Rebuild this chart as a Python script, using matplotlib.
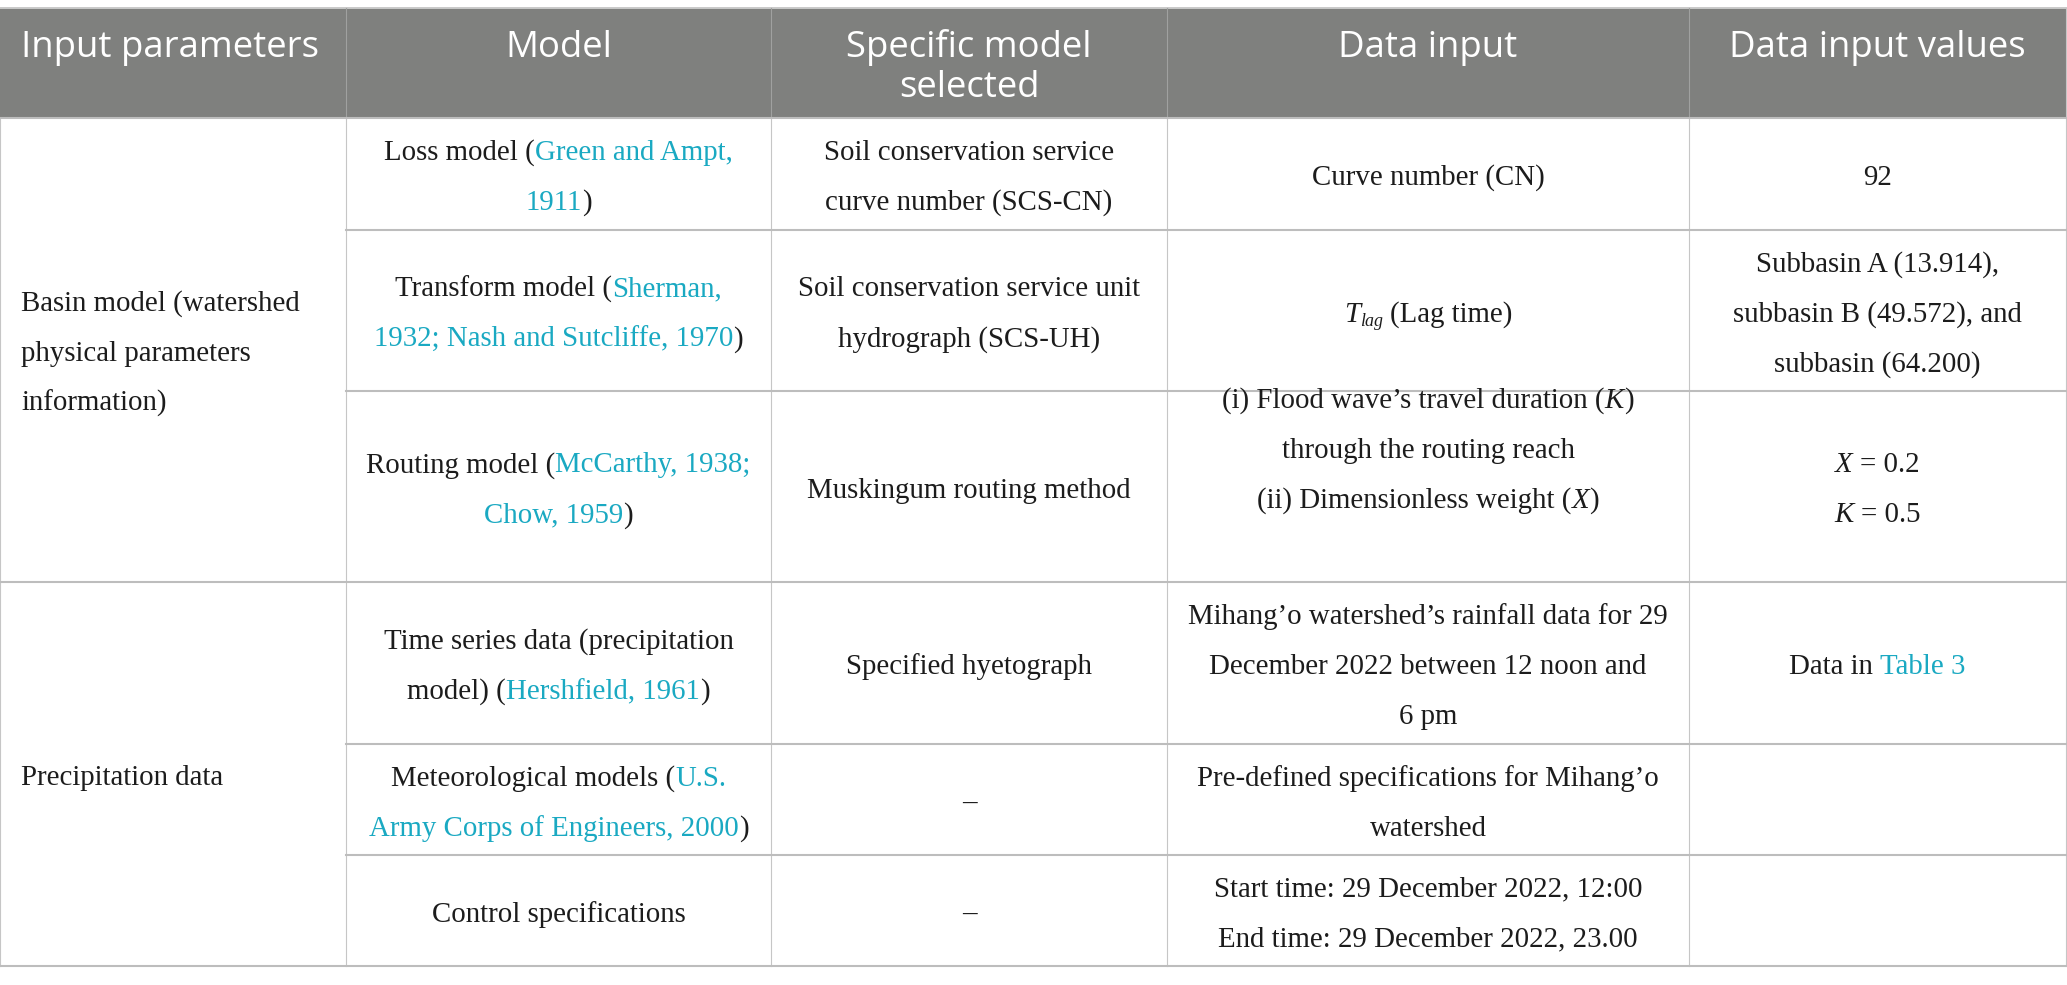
import re
import matplotlib.pyplot as plt

# table content ({..} = citation link, *..* = italic, ~..~ = italic subscript)
headers = ["Input parameters", "Model", "Specific model\nselected", "Data input", "Data input values"]
groups = ["Basin model (watershed\nphysical parameters\ninformation)", "Precipitation data"]
group_sizes = [3, 3]
models = [
    "Loss model ({Green and Ampt,}\n{1911})",
    "Transform model ({Sherman,}\n{1932; Nash and Sutcliffe, 1970})",
    "Routing model ({McCarthy, 1938;}\n{Chow, 1959})",
    "Time series data (precipitation\nmodel) ({Hershfield, 1961})",
    "Meteorological models ({U.S.}\n{Army Corps of Engineers, 2000})",
    "Control specifications",
]
specific = [
    "Soil conservation service\ncurve number (SCS-CN)",
    "Soil conservation service unit\nhydrograph (SCS-UH)",
    "Muskingum routing method",
    "Specified hyetograph",
    "\u2013",
    "\u2013",
]
data_input = [
    "Curve number (CN)",
    "*T*~lag~ (Lag time)",
    "(i) Flood wave\u2019s travel duration (*K*)\nthrough the routing reach\n(ii) Dimensionless weight (*X*)",
    "Mihang\u2019o watershed\u2019s rainfall data for 29\nDecember 2022 between 12 noon and\n6 pm",
    "Pre-defined specifications for Mihang\u2019o\nwatershed",
    "Start time: 29 December 2022, 12:00\nEnd time: 29 December 2022, 23.00",
]
input_values = [
    "92",
    "Subbasin A (13.914),\nsubbasin B (49.572), and\nsubbasin (64.200)",
    "*X* = 0.2\n*K* = 0.5",
    "Data in {Table 3}",
    "",
    "",
]

W, H = 2067, 985
col_x = [0, 346, 771, 1167, 1689, 2066]
row_y = [118, 230, 391, 582, 744, 855, 966]
top_y = 8
line_gap = 50
shift = {(3, 2): -40}

HEAD_GRAY = "#7f807e"
LINK = "#1aa9c2"
TEXT = "#1c1c1c"
body_font = "Liberation Serif"
body_size = 20.8

fig = plt.figure(figsize=(W / 100, H / 100), dpi=100)
ax = fig.add_axes([0, 0, 1, 1])
ax.set_xlim(0, W)
ax.set_ylim(H, 0)
ax.axis("off")
renderer = fig.canvas.get_renderer()


def text_width(s, **kw):
    if not s:
        return 0.0
    t = ax.text(0, 0, s, **kw)
    w = t.get_window_extent(renderer).width
    t.remove()
    return w


def run_width(s, **kw):
    core = s.strip(" ")
    n_sp = len(s) - len(core)
    sp = text_width("x x", **kw) - text_width("xx", **kw) if n_sp else 0
    return text_width(core, **kw) + n_sp * sp


def parse(line):
    runs = []
    for tok in re.split(r"(\{[^}]*\}|\*[^*]*\*|~[^~]*~)", line):
        if not tok:
            continue
        kw = dict(family=body_font, fontsize=body_size, color=TEXT)
        dy = 0
        if tok[0] == "{":
            tok = tok[1:-1]
            kw["color"] = LINK
        elif tok[0] == "*":
            tok = tok[1:-1]
            kw["style"] = "italic"
        elif tok[0] == "~":
            tok = tok[1:-1]
            kw["style"] = "italic"
            kw["fontsize"] = body_size * 0.62
            dy = 5
        runs.append((tok, kw, dy))
    return runs


def draw_line(line, x, base, align="center"):
    runs = parse(line)
    widths = [run_width(t, **kw) for t, kw, dy in runs]
    total = sum(widths)
    cx = x - total / 2 if align == "center" else x
    for (t, kw, dy), w in zip(runs, widths):
        lead = len(t) - len(t.lstrip(" "))
        sp = (text_width("x x", **kw) - text_width("xx", **kw)) if lead else 0
        ax.text(cx + lead * sp, base + dy, t.strip(" "), ha="left", va="baseline", **kw)
        cx += w


def draw_cell(content, x, y_center, align="center"):
    lines = content.split("\n") if content else []
    n = len(lines)
    for i, ln in enumerate(lines):
        base = y_center + 3 + (i - (n - 1) / 2) * line_gap + 8
        draw_line(ln, x, base, align)


# header band
ax.fill_between([0, col_x[-1]], top_y, row_y[0], color=HEAD_GRAY, lw=0)
ax.plot([0, col_x[-1]], [top_y, top_y], color="#c9c9c9", lw=1.4)
for cx in col_x[1:-1]:
    ax.plot([cx, cx], [top_y, row_y[0]], color="#a0a1a0", lw=0.8)
for j, h in enumerate(headers):
    x = 21 if j == 0 else (col_x[j] + col_x[j + 1]) / 2
    for i, ln in enumerate(h.split("\n")):
        ax.text(x, 57 + i * 40, ln, family="Open Sans", fontsize=26.3, color="white",
                ha="left" if j == 0 else "center", va="baseline")

# grid lines
for cx in col_x[:-1]:
    ax.plot([cx, cx], [row_y[0], row_y[-1]], color="#c6c6c6", lw=0.8)
ax.plot([col_x[-1], col_x[-1]], [top_y, row_y[-1]], color="#c6c6c6", lw=0.8)
group_edges = [0]
for g in group_sizes:
    group_edges.append(group_edges[-1] + g)
for r, y in enumerate(row_y):
    x0 = 0 if r in group_edges else col_x[1]
    ax.plot([x0, col_x[-1]], [y, y], color="#bdbdbd", lw=1.5)

# group labels
for g, label in enumerate(groups):
    y0 = row_y[group_edges[g]]
    y1 = row_y[group_edges[g + 1]]
    draw_cell(label, 21, (y0 + y1) / 2, align="left")

# body cells
columns = [models, specific, data_input, input_values]
for c, col in enumerate(columns):
    xc = (col_x[c + 1] + col_x[c + 2]) / 2
    for r, content in enumerate(col):
        yc = (row_y[r] + row_y[r + 1]) / 2 + shift.get((c + 1, r), 0)
        draw_cell(content, xc, yc)

fig.savefig("out.png", dpi=100, facecolor="white")
